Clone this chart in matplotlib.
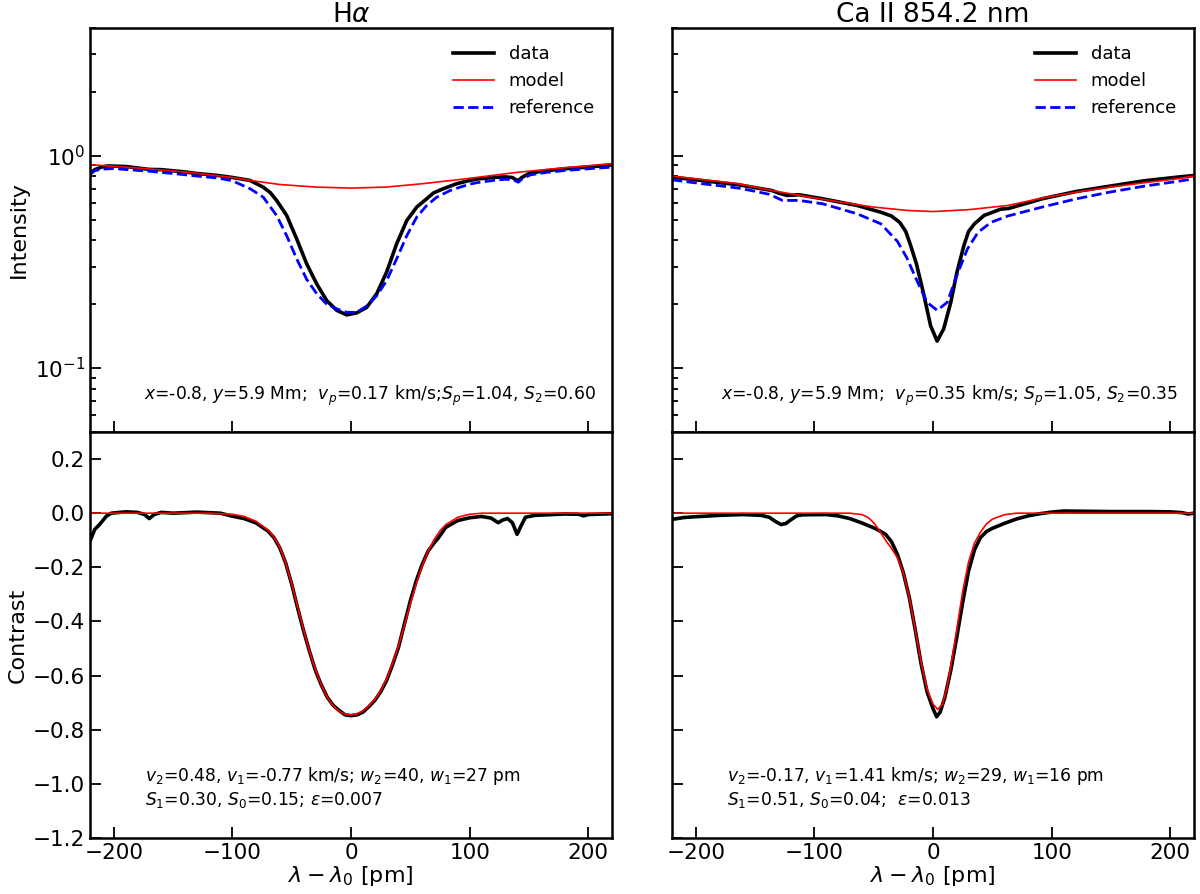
import numpy as np
import matplotlib
matplotlib.use("Agg")
import matplotlib.pyplot as plt

# ---------------- data: H-alpha -----------------
ha_x_data = [-220, -216, -210, -205, -190, -170, -160, -141, -130, -112, -100, -85, -74, -68, -62.7,
             -54.2, -45.8, -37.4, -28.9, -20.5, -12, -3.6, 4.8, 13.2, 21.7, 30, 38.5, 47, 55.4, 63.8,
             69.4, 74, 77.8, 89, 100, 107, 120, 130, 136, 139, 141, 144, 151, 165, 180, 200, 220]
ha_data = [0.82, 0.86, 0.885, 0.895, 0.89, 0.862, 0.86, 0.84, 0.825, 0.807, 0.79, 0.765, 0.711, 0.67,
           0.616, 0.523, 0.406, 0.31, 0.249, 0.208, 0.187, 0.178, 0.182, 0.193, 0.224, 0.283, 0.385,
           0.495, 0.573, 0.627, 0.667, 0.685, 0.699, 0.738, 0.765, 0.778, 0.79, 0.795, 0.79, 0.77,
           0.765, 0.79, 0.83, 0.85, 0.868, 0.885, 0.905]
ha_x_ref = [-220, -216, -210, -200, -170, -160, -141, -130, -112, -100, -85, -74, -62.7, -54.2, -45.8,
            -37.4, -28.9, -20.5, -12, -3.6, 4.8, 13.2, 21.7, 30, 38.5, 47, 55.4, 63.8, 72.3, 83.6, 92,
            100, 107, 120, 130, 136, 139, 141, 144, 151, 165, 180, 200, 220]
ha_ref = [0.82, 0.85, 0.865, 0.87, 0.845, 0.835, 0.815, 0.802, 0.785, 0.762, 0.699, 0.638, 0.523, 0.42,
          0.327, 0.262, 0.224, 0.20, 0.19, 0.183, 0.183, 0.196, 0.219, 0.258, 0.327, 0.42, 0.514,
          0.583, 0.638, 0.686, 0.711, 0.735, 0.748, 0.765, 0.775, 0.772, 0.76, 0.75, 0.775, 0.812,
          0.835, 0.852, 0.868, 0.884]
ha_x_model = [-220, -180, -140, -100, -85, -60, -30, 0, 30, 60, 92, 140, 180, 220]
ha_model = [0.908, 0.875, 0.838, 0.79, 0.765, 0.732, 0.712, 0.704, 0.712, 0.738, 0.773, 0.835, 0.878, 0.917]

ha_cx = [-220, -216, -212, -206, -202, -190, -180, -174, -170, -166, -160, -150, -130, -110, -100, -90,
         -80, -70, -65, -60, -55, -50, -45, -40, -35, -30, -25, -20, -15, -10, -5, 0, 5, 10, 15, 20, 25,
         30, 35, 40, 45, 50, 55, 60, 65, 70, 73, 80, 90, 100, 110, 118, 124, 128, 132, 136, 140, 143,
         147, 155, 180, 192, 196, 200, 220]
ha_contrast = [-0.103, -0.06, -0.042, -0.01, 0.0, 0.005, 0.003, -0.005, -0.02, -0.005, 0.003, 0.0, 0.004,
               0.0, -0.011, -0.02, -0.036, -0.066, -0.09, -0.128, -0.185, -0.262, -0.35, -0.434, -0.51,
               -0.581, -0.635, -0.68, -0.71, -0.729, -0.745, -0.748, -0.745, -0.735, -0.715, -0.692,
               -0.66, -0.618, -0.56, -0.496, -0.41, -0.324, -0.25, -0.189, -0.14, -0.11, -0.095, -0.052,
               -0.027, -0.017, -0.012, -0.018, -0.035, -0.025, -0.02, -0.035, -0.078, -0.05, -0.015,
               -0.008, -0.003, -0.004, -0.01, -0.005, -0.002]
ha_mx = [-220, -120, -100, -90, -80, -70, -65, -60, -55, -50, -45, -40, -35, -30, -25, -20, -15, -10, -5,
         0, 5, 10, 15, 20, 25, 30, 35, 40, 45, 50, 55, 60, 65, 70, 75, 80, 90, 100, 110, 220]
ha_model_contrast = [0, 0, -0.004, -0.012, -0.03, -0.062, -0.088, -0.125, -0.185, -0.26, -0.345, -0.43,
                     -0.51, -0.578, -0.635, -0.68, -0.712, -0.732, -0.743, -0.745, -0.742, -0.73, -0.712,
                     -0.688, -0.655, -0.612, -0.555, -0.49, -0.415, -0.335, -0.26, -0.195, -0.14, -0.098,
                     -0.065, -0.042, -0.015, -0.004, 0, 0]

# ---------------- data: Ca II 854.2 -----------------
ca_x_data = [-220, -200, -164, -136, -130, -123, -113, -93, -64, -44, -35, -28, -23, -19, -14, -8, -2,
             3.5, 9, 15, 20, 26, 30, 35, 43, 57, 64, 92, 121, 149, 178, 206, 220]
ca_data = [0.793, 0.77, 0.73, 0.686, 0.667, 0.65, 0.655, 0.627, 0.583, 0.542, 0.52, 0.485, 0.44, 0.38,
           0.31, 0.225, 0.158, 0.134, 0.153, 0.204, 0.28, 0.377, 0.44, 0.478, 0.523, 0.56, 0.565, 0.627,
           0.679, 0.719, 0.762, 0.793, 0.807]
ca_x_ref = [-220, -200, -164, -150, -138, -132, -127, -113, -93, -64, -44, -30, -22, -13, -5, 3.5, 12,
            20, 29, 38, 49, 63, 92, 121, 149, 178, 206, 220]
ca_ref = [0.77, 0.745, 0.704, 0.68, 0.658, 0.635, 0.616, 0.616, 0.594, 0.533, 0.478, 0.395, 0.33, 0.254,
          0.204, 0.187, 0.204, 0.272, 0.364, 0.436, 0.486, 0.52, 0.573, 0.627, 0.674, 0.719, 0.757, 0.779]
ca_x_model = [-220, -164, -136, -107, -78, -50, -21, 0, 6, 30, 63, 92, 121, 149, 178, 206, 220]
ca_model = [0.802, 0.738, 0.686, 0.643, 0.605, 0.573, 0.552, 0.546, 0.548, 0.557, 0.583, 0.632, 0.674,
            0.711, 0.746, 0.779, 0.802]

ca_cx = [-220, -210, -200, -180, -160, -145, -138, -133, -128, -124, -120, -115, -110, -90, -80, -70,
         -60, -50, -45, -40, -35, -30, -25, -20, -15, -10, -5, 0, 3, 6, 10, 15, 20, 25, 30, 35, 40, 45,
         50, 60, 70, 80, 90, 100, 110, 130, 150, 180, 200, 210, 215, 220]
ca_contrast = [-0.023, -0.016, -0.013, -0.008, -0.005, -0.008, -0.015, -0.03, -0.042, -0.038, -0.025,
               -0.01, -0.006, -0.005, -0.01, -0.02, -0.036, -0.054, -0.065, -0.078, -0.105, -0.152,
               -0.22, -0.311, -0.43, -0.557, -0.66, -0.722, -0.752, -0.735, -0.68, -0.58, -0.459, -0.33,
               -0.213, -0.135, -0.09, -0.068, -0.056, -0.038, -0.022, -0.01, -0.002, 0.004, 0.008,
               0.007, 0.006, 0.006, 0.005, 0.002, -0.003, 0.0]
ca_mx = [-220, -70, -60, -55, -50, -45, -40, -35, -30, -25, -20, -15, -10, -5, 0, 4, 8, 12, 16, 20, 25,
         30, 35, 40, 45, 50, 60, 70, 220]
ca_model_contrast = [0, 0, -0.005, -0.015, -0.035, -0.065, -0.1, -0.13, -0.165, -0.22, -0.31, -0.43,
                     -0.55, -0.65, -0.705, -0.725, -0.705, -0.64, -0.54, -0.43, -0.29, -0.18, -0.11,
                     -0.07, -0.04, -0.022, -0.006, 0.0, 0.0]

titles = [r"H$\alpha$", "Ca II 854.2 nm"]
top_notes = [r"$x$=-0.8, $y$=5.9 Mm;  $v_p$=0.17 km/s;$S_p$=1.04, $S_2$=0.60",
             r"$x$=-0.8, $y$=5.9 Mm;  $v_p$=0.35 km/s; $S_p$=1.05, $S_2$=0.35"]
bot_notes1 = [r"$v_2$=0.48, $v_1$=-0.77 km/s; $w_2$=40, $w_1$=27 pm",
              r"$v_2$=-0.17, $v_1$=1.41 km/s; $w_2$=29, $w_1$=16 pm"]
bot_notes2 = [r"$S_1$=0.30, $S_0$=0.15; $\varepsilon$=0.007",
              r"$S_1$=0.51, $S_0$=0.04;  $\varepsilon$=0.013"]
xticks = [-200, -100, 0, 100, 200]
cticks = [-1.2, -1.0, -0.8, -0.6, -0.4, -0.2, 0.0, 0.2]

fig = plt.figure(figsize=(12, 8.94), dpi=100)
lefts = [0.075, 0.56]
w = 0.435
top_b, top_h = 0.5168, 0.452
bot_b, bot_h = 0.0626, 0.4542

sets = [
    (ha_x_data, ha_data, ha_x_ref, ha_ref, ha_x_model, ha_model, ha_cx, ha_contrast, ha_mx, ha_model_contrast),
    (ca_x_data, ca_data, ca_x_ref, ca_ref, ca_x_model, ca_model, ca_cx, ca_contrast, ca_mx, ca_model_contrast),
]

def style(ax):
    for s in ax.spines.values():
        s.set_linewidth(1.8)
    ax.tick_params(which='both', direction='in', top=False, right=False, width=1.3)
    ax.tick_params(which='major', length=8, labelsize=15.5)
    ax.tick_params(which='minor', length=4)

for i in range(2):
    xd, yd, xr, yr, xm, ym, cx, cy, mx, my = sets[i]
    axt = fig.add_axes([lefts[i], top_b, w, top_h])
    axb = fig.add_axes([lefts[i], bot_b, w, bot_h])

    axt.plot(xd, yd, color='black', lw=2.6, label='data')
    axt.plot(xm, ym, color='red', lw=1.2, label='model')
    axt.plot(xr, yr, color='blue', lw=2, ls='--', label='reference')
    axt.set_yscale('log')
    axt.set_ylim(0.05, 4)
    axt.set_xlim(-220, 220)
    axt.set_xticks(xticks)
    axt.set_xticklabels([])
    axt.set_title(titles[i], fontsize=19, pad=3)
    axt.legend(loc='upper right', frameon=False, fontsize=13, handlelength=2.3,
               borderaxespad=0.55, labelspacing=0.5)
    axt.text(0.97, 0.09, top_notes[i], transform=axt.transAxes, ha='right', va='center', fontsize=12.3)
    style(axt)

    axb.plot(cx, cy, color='black', lw=2.6)
    axb.plot(mx, my, color='red', lw=1.2)
    axb.set_xlim(-220, 220)
    axb.set_ylim(-1.2, 0.3)
    axb.set_xticks(xticks)
    axb.set_yticks(cticks)
    axb.set_xlabel(r"$\lambda - \lambda_0$ [pm]", fontsize=16, labelpad=1)
    axb.text(0.105, 0.153, bot_notes1[i], transform=axb.transAxes, ha='left', va='center', fontsize=12.3)
    axb.text(0.105, 0.094, bot_notes2[i], transform=axb.transAxes, ha='left', va='center', fontsize=12.3)
    style(axb)

    if i == 0:
        axt.set_ylabel("Intensity", fontsize=16)
        axb.set_ylabel("Contrast", fontsize=16)
    else:
        axt.set_yticklabels([], minor=True)
        axt.set_yticklabels([])
        axb.set_yticklabels([])

fig.savefig("out.png", dpi=100)
